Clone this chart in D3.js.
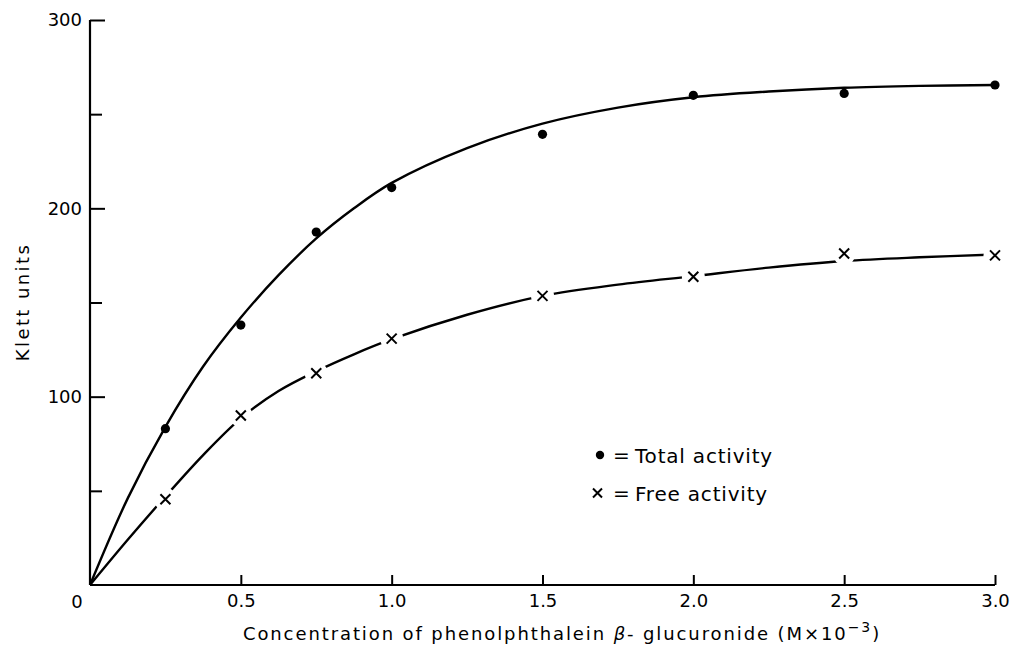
<!DOCTYPE html>
<html>
<head>
<meta charset="utf-8">
<script src="https://cdn.jsdelivr.net/npm/d3@7"></script>
<style>
  html, body { margin: 0; padding: 0; background: #fff; }
  text { font-family: "DejaVu Sans", sans-serif; fill: #000; }
</style>
</head>
<body>
<svg id="chart" width="1011" height="648"></svg>
<script>
// ---- data ----
const concentrations = [0.25, 0.5, 0.75, 1.0, 1.5, 2.0, 2.5, 3.0];
const totalActivity = [83, 138, 187.4, 211, 239.3, 260, 261, 265.5];
const freeActivity = [45.5, 90, 112.4, 130.8, 153.5, 163.7, 176, 175];

// fitted (hand-drawn) curves
const totalCurveX = [0, 0.125, 0.25, 0.375, 0.5, 0.625, 0.75, 0.875, 1.0, 1.25, 1.5, 1.75, 2.0, 2.25, 2.5, 2.75, 3.0];
const totalCurve  = [0, 46, 84, 116, 142, 164.5, 184, 200, 213.5, 232, 245, 253.5, 259, 262, 264, 265, 265.5];
const freeCurveX = [0, 0.125, 0.25, 0.375, 0.5, 0.625, 0.75, 0.875, 1.0, 1.25, 1.5, 1.75, 2.0, 2.25, 2.5, 2.75, 3.0];
const freeCurve  = [0, 24, 47, 69, 88.5, 103, 113.5, 122.5, 130.5, 143.5, 153.5, 159.5, 164, 168.5, 172, 174, 175.5];

const xTicks = [0.5, 1.0, 1.5, 2.0, 2.5, 3.0];
const xTickLabels = ["0.5", "1.0", "1.5", "2.0", "2.5", "3.0"];
const yMajorTicks = [100, 200, 300];
const yMinorTicks = [50, 150, 250];

const xLabel = "Concentration of phenolphthalein";
const yLabel = "Klett units";
const legendLabels = ["Total activity", "Free activity"];

// ---- drawing ----
const svg = d3.select("#chart");
const x = d3.scaleLinear().domain([0, 3]).range([90, 995]);
const y = d3.scaleLinear().domain([0, 300]).range([585, 20]);

// axes lines
const axisG = svg.append("g");
axisG.append("line").attr("x1", x(0)).attr("x2", x(3)).attr("y1", y(0)).attr("y2", y(0))
  .attr("stroke", "#000").attr("stroke-width", 2.2);
axisG.append("line").attr("x1", x(0)).attr("x2", x(0)).attr("y1", y(0)).attr("y2", y(300))
  .attr("stroke", "#000").attr("stroke-width", 2.2);

// x axis ticks
const xAxis = d3.axisBottom(x).tickValues(xTicks)
  .tickFormat((d, i) => xTickLabels[i]).tickSizeInner(-10).tickSizeOuter(0).tickPadding(9);
const gx = svg.append("g").attr("transform", `translate(0,${y(0)})`).call(xAxis);
gx.select(".domain").remove();
gx.selectAll(".tick line").attr("stroke-width", 2);
gx.selectAll(".tick text").attr("font-size", 18).style("font-family", "DejaVu Sans");
svg.append("text").attr("x", x(0) - 13).attr("y", y(0) + 23).attr("text-anchor", "middle")
  .attr("font-size", 18).text("0");

// y axis ticks
const yAxis = d3.axisLeft(y).tickValues(yMajorTicks).tickFormat(d3.format("d"))
  .tickSizeInner(-15).tickSizeOuter(0).tickPadding(8);
const gy = svg.append("g").attr("transform", `translate(${x(0)},0)`).call(yAxis);
gy.select(".domain").remove();
gy.selectAll(".tick line").attr("stroke-width", 2);
gy.selectAll(".tick text").attr("font-size", 18).style("font-family", "DejaVu Sans");
const yAxisMinor = d3.axisLeft(y).tickValues(yMinorTicks).tickFormat("")
  .tickSizeInner(-12).tickSizeOuter(0);
const gym = svg.append("g").attr("transform", `translate(${x(0)},0)`).call(yAxisMinor);
gym.select(".domain").remove();
gym.selectAll(".tick line").attr("stroke-width", 2);

// curves
const line = d3.line().x(d => x(d[0])).y(d => y(d[1])).curve(d3.curveCatmullRom.alpha(0.5));
svg.append("path").datum(totalCurveX.map((c, i) => [c, totalCurve[i]]))
  .attr("d", line).attr("fill", "none").attr("stroke", "#000").attr("stroke-width", 2.4);
svg.append("path").datum(freeCurveX.map((c, i) => [c, freeCurve[i]]))
  .attr("d", line).attr("fill", "none").attr("stroke", "#000").attr("stroke-width", 2.4);

// white patches open gaps in the free-activity curve around each cross
svg.append("g").attr("class", "gaps").selectAll("rect").data(concentrations).join("rect")
  .attr("x", d => x(d) - 11.5).attr("y", (d, i) => y(freeActivity[i]) - 11.5)
  .attr("width", 23).attr("height", 23).attr("rx", 11.5)
  .style("fill", "#ffffff").style("stroke", "none");

// total activity dots
svg.append("g").selectAll("circle").data(concentrations).join("circle")
  .attr("cx", d => x(d)).attr("cy", (d, i) => y(totalActivity[i]))
  .attr("r", 4.6).attr("fill", "#000");

// free activity crosses
const cross = (g, cx, cy, s) => {
  g.append("path").attr("d", `M${cx - s},${cy - s}L${cx + s},${cy + s}M${cx - s},${cy + s}L${cx + s},${cy - s}`)
    .attr("stroke", "#000").attr("stroke-width", 2).attr("fill", "none");
};
const gc = svg.append("g");
concentrations.forEach((c, i) => cross(gc, x(c), y(freeActivity[i]), 5));

// axis titles
const xt = svg.append("text").attr("x", 562).attr("y", 640).attr("text-anchor", "middle")
  .attr("font-size", 18).attr("letter-spacing", 1.9);
xt.append("tspan").text(xLabel + "  ");
xt.append("tspan").attr("font-style", "italic").text("β");
xt.append("tspan").text("- glucuronide  (M×10");
xt.append("tspan").attr("dy", -8).attr("font-size", 14).text("−3");
xt.append("tspan").attr("dy", 8).text(")");

svg.append("text").attr("transform", "translate(29,302) rotate(-90)")
  .attr("text-anchor", "middle").attr("font-size", 18).attr("letter-spacing", 2.4).text(yLabel);

// legend
const lg = svg.append("g");
lg.append("circle").attr("cx", 600).attr("cy", 455).attr("r", 4.2).attr("fill", "#000");
cross(lg, 597.5, 493, 4.5);
[455, 493].forEach((yy, i) => {
  lg.append("text").attr("x", 613).attr("y", yy + 7).attr("font-size", 20).text("=");
  lg.append("text").attr("x", 635).attr("y", yy + 7.5).attr("font-size", 20)
    .attr("letter-spacing", 0.8).text(legendLabels[i]);
});
</script>
</body>
</html>
